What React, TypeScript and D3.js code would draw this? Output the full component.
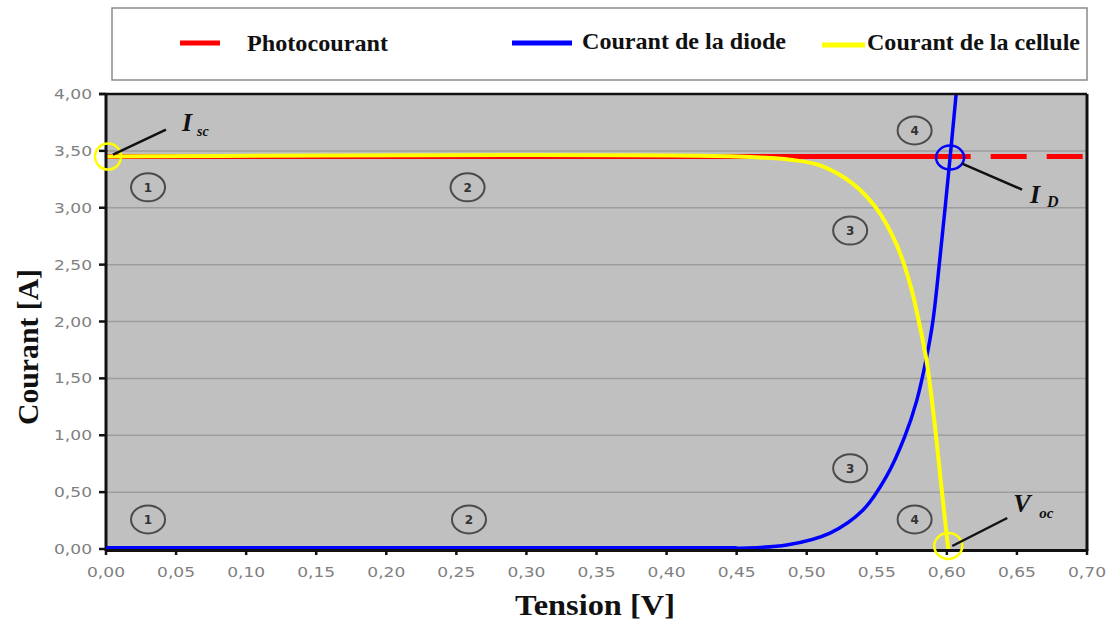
import React from "react";
import * as d3 from "d3";

// ---- data ----
const xTicks = [0, 0.05, 0.1, 0.15, 0.2, 0.25, 0.3, 0.35, 0.4, 0.45, 0.5, 0.55, 0.6, 0.65, 0.7];
const yTicks = [0, 0.5, 1, 1.5, 2, 2.5, 3, 3.5, 4];
const gridTicks = [0.5, 1, 1.5, 2, 2.5, 3, 3.5];

const photoV = [0, 0.7];
const photoI = [3.45, 3.45];

const diodeV = [0, 0.4, 0.45, 0.4857, 0.5166, 0.54, 0.557, 0.57, 0.5784, 0.5856, 0.59, 0.595, 0.6023, 0.607];
const diodeI = [0, 0, 0.006, 0.035, 0.14, 0.34, 0.64, 0.99, 1.3, 1.69, 2.0, 2.55, 3.44, 4.05];

const cellV = [0, 0.45, 0.49, 0.51, 0.533, 0.55, 0.564, 0.574, 0.58, 0.5856, 0.5915, 0.596, 0.601];
const cellI = [3.45, 3.45, 3.42, 3.37, 3.21, 2.99, 2.68, 2.32, 2.0, 1.65, 1.08, 0.56, 0];

const zoneLabels = ["1", "1", "2", "2", "3", "3", "4", "4"];
const zoneV = [0.03, 0.03, 0.258, 0.259, 0.531, 0.531, 0.577, 0.577];
const zoneI = [3.18, 0.26, 3.18, 0.26, 2.8, 0.71, 3.68, 0.26];

const legendNames = ["Photocourant", "Courant de la diode", "Courant de la cellule"];
const seriesColors = ["#ff0000", "#0000ff", "#ffff00"];

const iscPoint = { v: 0, i: 3.45 };
const idPoint = { v: 0.6023, i: 3.45 };
const vocPoint = { v: 0.601, i: 0 };

// ---- layout ----
const W = 1109;
const H = 621;
const left = 106;
const right = 1087;
const top = 94;
const bottom = 549;

export default function App() {
  const x = d3.scaleLinear().domain([0, 0.7]).range([left, right]);
  const y = d3.scaleLinear().domain([0, 4]).range([bottom, top]);
  const fmt = (v: number) => d3.format(".2f")(v).replace(".", ",");

  const line = d3
    .line<[number, number]>()
    .x((d) => x(d[0]))
    .y((d) => y(d[1]));
  const smooth = d3
    .line<[number, number]>()
    .x((d) => x(d[0]))
    .y((d) => y(d[1]))
    .curve(d3.curveCatmullRom.alpha(0.5));

  const photoPts = photoV.map((v, k) => [v, photoI[k]] as [number, number]);
  const diodePts = diodeV.map((v, k) => [v, diodeI[k]] as [number, number]);
  const cellPts = cellV.map((v, k) => [v, cellI[k]] as [number, number]);

  const solidLen = x(0.617) - x(0);
  const photoDash = `${solidLen} 20 36 20 36 20`;

  const serif = "'Liberation Serif', 'Times New Roman', serif";
  const sans = "'DejaVu Sans', Verdana, sans-serif";

  const legendSw = [
    { x1: 180, x2: 220, y: 43, tx: 247, tl: 141, ty: 51 },
    { x1: 512, x2: 572, y: 43, tx: 582, tl: 204, ty: 49 },
    { x1: 822, x2: 865, y: 45, tx: 867, tl: 213, ty: 50 },
  ];

  return (
    <svg
      width={W}
      height={H}
      style={{ position: "fixed", left: 0, top: 0, background: "#fff" }}
    >
      <defs>
        <clipPath id="plotClip">
          <rect x={left} y={top} width={right - left} height={bottom - top + 4} />
        </clipPath>
      </defs>

      {/* legend */}
      <rect x={112} y={8} width={975} height={72} fill="#fff" stroke="#8a8a8a" strokeWidth={1.5} />
      {legendNames.map((n, k) => (
        <g key={n}>
          <line
            x1={legendSw[k].x1}
            x2={legendSw[k].x2}
            y1={legendSw[k].y}
            y2={legendSw[k].y}
            stroke={seriesColors[k]}
            strokeWidth={5}
          />
          <text
            x={legendSw[k].tx}
            y={legendSw[k].ty}
            fontFamily={serif}
            fontWeight="bold"
            fontSize={23}
            textLength={legendSw[k].tl}
            lengthAdjust="spacingAndGlyphs"
            fill="#111"
          >
            {n}
          </text>
        </g>
      ))}

      {/* plot background */}
      <rect x={left} y={top} width={right - left} height={bottom - top} fill="#c0c0c0" />
      {gridTicks.map((t) => (
        <line key={t} x1={left} x2={right} y1={y(t)} y2={y(t)} stroke="#9d9d9d" strokeWidth={1.5} />
      ))}

      {/* series */}
      <g clipPath="url(#plotClip)">
        <path d={line(photoPts) || ""} fill="none" stroke={seriesColors[0]} strokeWidth={5} strokeDasharray={photoDash} />
        <path d={smooth(diodePts) || ""} fill="none" stroke={seriesColors[1]} strokeWidth={3.5} />
        <path d={smooth(cellPts) || ""} fill="none" stroke={seriesColors[2]} strokeWidth={4} />
      </g>

      {/* frame and axes */}
      <line x1={left - 7} x2={right} y1={top} y2={top} stroke="#111" strokeWidth={2.5} />
      <line x1={right} x2={right} y1={top} y2={bottom + 2} stroke="#111" strokeWidth={3} />
      <line x1={left} x2={left} y1={top} y2={bottom + 2} stroke="#111" strokeWidth={3} />
      <line x1={left} x2={right} y1={bottom + 1.5} y2={bottom + 1.5} stroke="#111" strokeWidth={3} />
      <path d={line([[0, 0], [0.45, 0]]) || ""} transform="translate(0,-1.5)" fill="none" stroke="#0000ff" strokeWidth={3} />

      {yTicks.map((t) => (
        <g key={"y" + t}>
          <line x1={left - 7} x2={left} y1={y(t)} y2={y(t)} stroke="#111" strokeWidth={2.5} />
          <text
            x={92}
            y={y(t) + 5}
            textAnchor="end"
            fontFamily={sans}
            fontSize={14}
            fill="#808080"
            textLength={38}
            lengthAdjust="spacingAndGlyphs"
          >
            {fmt(t)}
          </text>
        </g>
      ))}
      {xTicks.map((t) => (
        <g key={"x" + t}>
          <line x1={x(t)} x2={x(t)} y1={bottom} y2={bottom + 6} stroke="#111" strokeWidth={2.5} />
          <text
            x={x(t)}
            y={577}
            textAnchor="middle"
            fontFamily={sans}
            fontSize={14}
            fill="#808080"
            textLength={38}
            lengthAdjust="spacingAndGlyphs"
          >
            {fmt(t)}
          </text>
        </g>
      ))}

      {/* axis titles */}
      <text
        x={515}
        y={615}
        fontFamily={serif}
        fontWeight="bold"
        fontSize={29}
        textLength={160}
        lengthAdjust="spacingAndGlyphs"
        fill="#111"
      >
        Tension [V]
      </text>
      <text
        transform="translate(38,425) rotate(-90)"
        fontFamily={serif}
        fontWeight="bold"
        fontSize={29}
        textLength={156}
        lengthAdjust="spacingAndGlyphs"
        fill="#111"
      >
        Courant [A]
      </text>

      {/* zone markers */}
      {zoneLabels.map((lab, k) => (
        <g key={"z" + k}>
          <ellipse cx={x(zoneV[k])} cy={y(zoneI[k])} rx={17} ry={14} fill="none" stroke="#4a4a4a" strokeWidth={2} />
          <text
            x={x(zoneV[k])}
            y={y(zoneI[k]) + 4.5}
            textAnchor="middle"
            fontFamily={sans}
            fontWeight="bold"
            fontSize={12}
            fill="#333"
          >
            {lab}
          </text>
        </g>
      ))}

      {/* Isc */}
      <ellipse cx={x(iscPoint.v) + 2} cy={y(iscPoint.i)} rx={13} ry={13} fill="none" stroke="#ffff00" strokeWidth={2.5} />
      <line x1={x(iscPoint.v) + 7} y1={y(iscPoint.i) - 2} x2={x(iscPoint.v) + 60} y2={y(iscPoint.i) - 27} stroke="#111" strokeWidth={2.5} />
      <text x={x(iscPoint.v) + 76} y={y(iscPoint.i) - 26} fontFamily={serif} fontStyle="italic" fontWeight="bold" fontSize={26} fill="#111">
        I
      </text>
      <text x={x(iscPoint.v) + 91} y={y(iscPoint.i) - 21} fontFamily={serif} fontStyle="italic" fontWeight="bold" fontSize={14} fill="#111">
        sc
      </text>

      {/* ID */}
      <ellipse cx={x(idPoint.v)} cy={y(idPoint.i) + 1} rx={14} ry={12} fill="none" stroke="#0000ff" strokeWidth={2.5} />
      <line x1={x(idPoint.v) + 12} y1={y(idPoint.i) + 7} x2={x(idPoint.v) + 72} y2={y(idPoint.i) + 33} stroke="#111" strokeWidth={2.5} />
      <text x={x(idPoint.v) + 80} y={y(idPoint.i) + 46} fontFamily={serif} fontStyle="italic" fontWeight="bold" fontSize={26} fill="#111">
        I
      </text>
      <text x={x(idPoint.v) + 97} y={y(idPoint.i) + 50} fontFamily={serif} fontStyle="italic" fontWeight="bold" fontSize={16} fill="#111">
        D
      </text>

      {/* Voc */}
      <ellipse cx={x(vocPoint.v)} cy={y(vocPoint.i) - 3} rx={14} ry={13} fill="none" stroke="#ffff00" strokeWidth={2.5} />
      <line x1={x(vocPoint.v) + 4} y1={y(vocPoint.i) - 3} x2={x(vocPoint.v) + 59} y2={y(vocPoint.i) - 31} stroke="#111" strokeWidth={2.5} />
      <text x={x(vocPoint.v) + 65} y={y(vocPoint.i) - 37} fontFamily={serif} fontStyle="italic" fontWeight="bold" fontSize={26} fill="#111">
        V
      </text>
      <text x={x(vocPoint.v) + 91} y={y(vocPoint.i) - 31} fontFamily={serif} fontStyle="italic" fontWeight="bold" fontSize={15} fill="#111">
        oc
      </text>
    </svg>
  );
}
